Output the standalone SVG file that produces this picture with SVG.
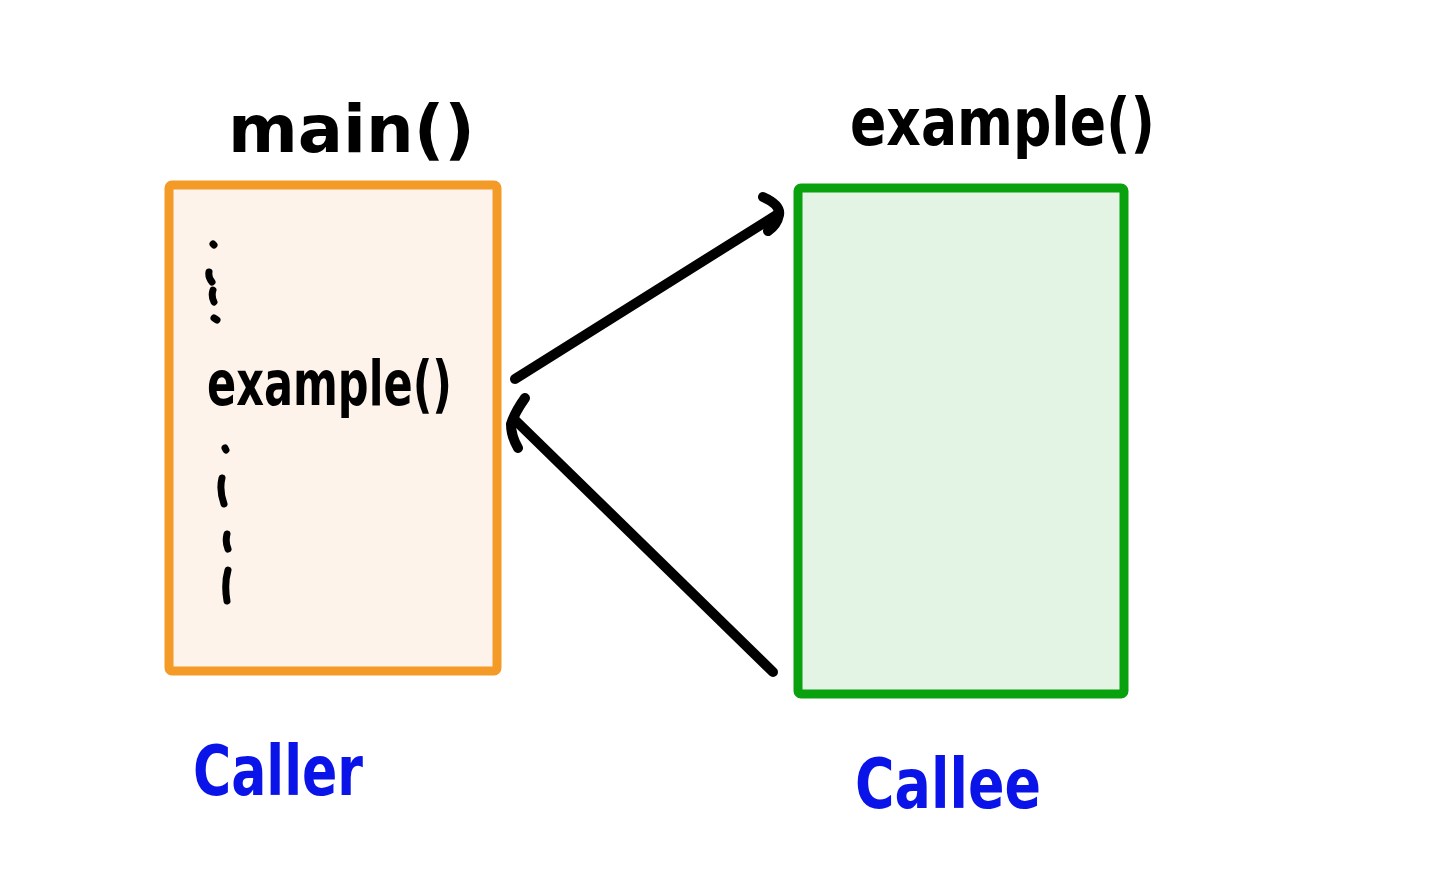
<svg xmlns="http://www.w3.org/2000/svg" width="1440" height="888" viewBox="0 0 1440 888">
<style>
.hand{font-family:"DejaVu Sans","Liberation Sans",sans-serif;font-weight:bold;fill:#000}
.blue{fill:#0A14E8}
.ink{fill:none;stroke:#000;stroke-width:10;stroke-linecap:round;stroke-linejoin:round}
.dot{fill:none;stroke:#000;stroke-width:7;stroke-linecap:round}
</style>
<rect width="1440" height="888" fill="#fff"/>
<g id="caller">
<rect x="169" y="185" width="328" height="486" rx="3" fill="#FDF3EA" stroke="#F49A26" stroke-width="9"/>
<text class="hand" x="228" y="152" font-size="66" textLength="247" lengthAdjust="spacingAndGlyphs">main()</text>
<path class="dot" d="M213 244 l1 1 M209 272 q-1 5 3 10 M213 290 q-2 6 1 12 M214 318 l3 2"/>
<text class="hand" x="207" y="405" font-size="62" textLength="245" lengthAdjust="spacingAndGlyphs">example()</text>
<path class="dot" d="M225 448 l1 2 M222 478 q-3 12 2 26 M227 534 q-2 8 1 15 M228 570 q-4 14 -1 31"/>
<text class="hand blue" x="193" y="795" font-size="70" textLength="170" lengthAdjust="spacingAndGlyphs">Caller</text>
</g>
<g id="callee">
<rect x="798" y="188" width="326" height="506" rx="3" fill="#E3F3E4" stroke="#09A10E" stroke-width="9"/>
<text class="hand" x="850" y="145" font-size="66" textLength="305" lengthAdjust="spacingAndGlyphs">example()</text>
<text class="hand blue" x="855" y="808" font-size="70" textLength="186" lengthAdjust="spacingAndGlyphs">Callee</text>
</g>
<g id="connectors">
<path class="ink" d="M515 379 L778 214"/>
<path class="ink" d="M763 197 q18 8 16 18 q-2 10 -11 16"/>
<path class="ink" d="M773 672 L515 420"/>
<path class="ink" d="M525 398 q-10 14 -14 26 q0 12 7 24"/>
</g>
</svg>
